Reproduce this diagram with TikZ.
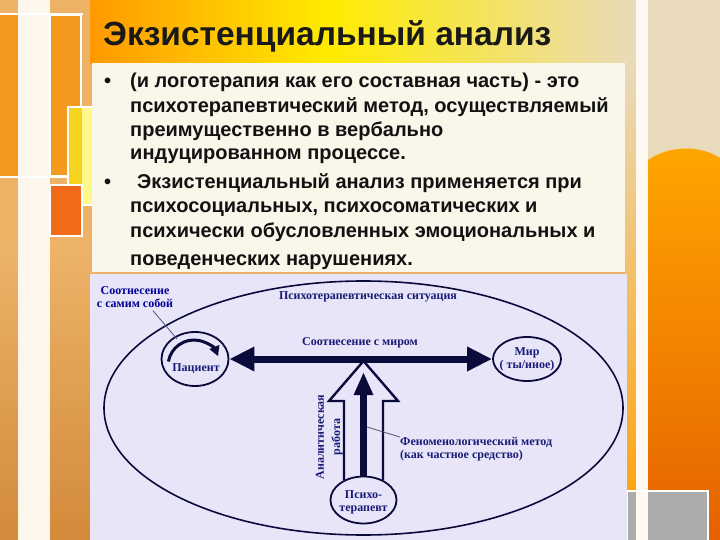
\documentclass[tikz,border=0pt]{standalone}
\usepackage{fontspec}
\setmainfont{Liberation Sans}
\newfontfamily\bodyfont{Liberation Sans}
\newfontfamily\diagfont{Liberation Serif}
\usetikzlibrary{arrows.meta,shapes.geometric}
\definecolor{bgbase}{HTML}{EDB266}
\definecolor{orA}{HTML}{F39A1E}
\definecolor{orR}{HTML}{F06A1A}
\definecolor{yelA}{HTML}{F7D31E}
\definecolor{cream}{HTML}{FBF6EA}
\definecolor{lav}{HTML}{E7E5F7}
\definecolor{dnavy}{HTML}{0B0B3B}
\definecolor{dtxt}{HTML}{1A1A78}
\definecolor{beige}{HTML}{E9DABB}
\definecolor{whitestrip}{HTML}{FCF6EC}
\definecolor{tanA}{HTML}{EDB46A}
\definecolor{tanB}{HTML}{D38A3A}
\tikzset{
  dline/.style={draw=dnavy, line width=1.6pt},
  circ/.style={ellipse, draw=dnavy, line width=1.8pt, fill=lav, inner sep=0pt},
  dtext/.style={text=dtxt, font=\diagfont\bfseries\fontsize{12}{13}\selectfont, align=center, inner sep=0pt},
  btext/.style={anchor=base west, inner sep=0pt, text=black!93, font=\bodyfont\bfseries\fontsize{20}{25}\selectfont},
  deco/.style={draw=white, line width=2pt},
  pointer/.style={draw=dnavy!70, line width=0.8pt},
}
\begin{document}
\begin{tikzpicture}[x=1pt,y=-1pt]
\useasboundingbox (0,0) rectangle (720,540);
% background
\fill[bgbase] (0,0) rectangle (720,540);
\shade[left color=orange!80!yellow, right color=yellow!85!orange] (90,0) rectangle (330,64);
\shade[left color=yellow!85!orange, right color=beige] (330,0) rectangle (636,64);
\shade[top color=beige, bottom color=orange!75!yellow] (625,64) rectangle (636,540);
\fill[beige] (648,0) rectangle (720,160);
\shade[top color=orange!70!yellow, bottom color=orange!85!red!90!black] (648,160) .. controls (670,145) and (700,145) .. (720,158) -- (720,540) -- (648,540) -- cycle;
\shade[top color=tanA, bottom color=tanB] (0,240) rectangle (90,540);
% left decoration
\fill[whitestrip] (18,0) rectangle (50,540);
\fill[orA] (0,15) rectangle (18,176);
\draw[deco] (0,14) -- (83,14);
\draw[deco] (0,177) -- (83,177);
\filldraw[deco, fill=orA] (50,15) rectangle (81,176);
\filldraw[deco, fill=yelA] (68,107) rectangle (96,205);
\fill[yellow!45!white] (82,108) rectangle (95,204);
\filldraw[deco, fill=orR] (50,185) rectangle (82,236);
% right decoration
\fill[white!95!orange] (636,0) rectangle (648,540);
\filldraw[draw=white, line width=2pt, fill=gray!65] (627,491) rectangle (708,541);
\fill[white!95!orange] (636,492) rectangle (648,540);
% text panel
\fill[cream] (92,63) rectangle (625,272);
% title
\node[anchor=base west, inner sep=0pt, text=black!90, font=\bodyfont\bfseries\fontsize{33.5}{34}\selectfont] (title) at (103,46) {Экзистенциальный анализ};
% bullets
\node[btext] (b1) at (104,88) {•};
\node[btext] (b2) at (104,189) {•};
\node[btext] (l1) at (130,88) {(и логотерапия как его составная часть) - это};
\node[btext] (l2) at (130,113) {психотерапевтический метод, осуществляемый};
\node[btext] (l3) at (130,137) {преимущественно в вербально};
\node[btext] (l4) at (130,160) {индуцированном процессе.};
\node[btext] (l5) at (137,189) {Экзистенциальный анализ применяется при};
\node[btext] (l6) at (130,213) {психосоциальных, психосоматических и};
\node[btext] (l7) at (130,237) {психически обусловленных эмоциональных и};
\node[btext] (l8) at (130,265) {поведенческих нарушениях.};
% diagram
\fill[lav] (90,274) rectangle (627,540);
\node[ellipse, draw=dnavy, line width=1.6pt, minimum width=519pt, minimum height=254pt, inner sep=0pt] (sit) at (363.5,408) {};
\node[dtext] (sitlbl) at (368,297) {Психотерапевтическая ситуация};
\node[dtext, text=blue!60!black] (selflbl) at (135,297) {Соотнесение\\с самим собой};
\node[dtext] (worldlbl) at (360,343) {Соотнесение с миром};
% hollow arrow
\coordinate (ht) at (363.5,361);
\draw[draw=dnavy, line width=2.4pt, fill=lav, line join=miter] (344,480) -- (344,401) -- (329,401) -- (ht) -- (398,401) -- (383,401) -- (383,480);
% circles
\node[circ, minimum width=67pt, minimum height=54pt] (pat) at (195,359) {};
\node[dtext] (patlbl) at (196,369) {Пациент};
\node[circ, minimum width=68pt, minimum height=44pt] (mir) at (527,359) {};
\node[dtext] (mirlbl) at (527,359) {Мир\\( ты/иное)};
\node[circ, minimum width=66pt, minimum height=47pt] (psy) at (363.5,500) {};
\node[dtext] (psylbl) at (363.5,502) {Психо-\\терапевт};
% horizontal double arrow
\draw[draw=dnavy, line width=7pt, {Triangle[length=25pt,width=23pt]}-{Triangle[length=25pt,width=23pt]}] (pat.east) -- (mir.west);
% black inner arrow
\draw[draw=dnavy, fill=dnavy, line width=7pt, -{Triangle[length=23pt,width=18pt]}] (psy.north) -- (363.5,372);
% self arc
\coordinate (arcst) at (168.4,361.5);
\draw[draw=dnavy, line width=3pt, -{Triangle[length=10pt,width=10pt]}] (arcst) arc[start angle=170, end angle=22, radius=26pt];
\coordinate (selfptr) at (177,339);
\draw[pointer] (selflbl.south) ++(18,3) -- (selfptr);
% phenomenological label
\node[dtext, align=left, anchor=north west] (phen) at (400,437) {Феноменологический метод\\(как частное средство)};
\coordinate (phenptr) at (367,427);
\draw[pointer] (phenptr) -- (phen.north west);
% vertical label
\node[dtext, rotate=90] (anal1) at (320,437) {Аналитическая};
\node[dtext, rotate=90] (anal2) at (337,437) {работа};
\end{tikzpicture}
\end{document}
